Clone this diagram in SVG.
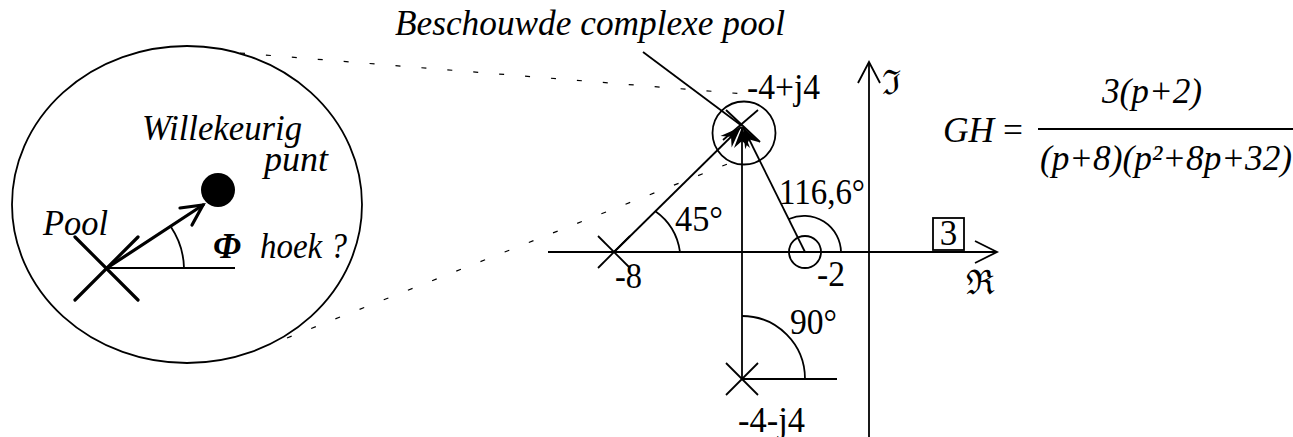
<svg xmlns="http://www.w3.org/2000/svg" width="1293" height="437" viewBox="0 0 1293 437">
<style>
.ln{stroke:#000;stroke-width:1.8;fill:none}
.thk{stroke:#000;stroke-width:3.2;fill:none;stroke-linecap:round}
.dash{stroke:#000;stroke-width:1.2;fill:none;stroke-dasharray:5 21}
.t{font-family:"Liberation Serif","Times New Roman",serif;font-size:35px;fill:#000}
.ti{font-family:"Liberation Serif","Times New Roman",serif;font-size:35px;font-style:italic;fill:#000}
.sym{font-family:"DejaVu Serif","Noto Sans",serif;font-size:34px;fill:#000}
</style>
<defs>
<marker id="barb" viewBox="-22 -9 24 18" refX="0" refY="0" markerWidth="24" markerHeight="18" markerUnits="userSpaceOnUse" orient="auto">
<path d="M0,0 L-21,-8 L-14,0 L-21,8 Z" fill="#000"/>
</marker>
</defs>
<rect width="1293" height="437" fill="#fff"/>

<g id="zoom-ellipse">
<ellipse cx="187" cy="204.5" rx="175" ry="158.5" class="ln"/>
<line x1="75" y1="237" x2="138" y2="300" class="thk"/>
<line x1="138" y1="237" x2="75" y2="300" class="thk"/>
<line x1="107" y1="268" x2="235" y2="268" class="ln"/>
<line x1="107" y1="268" x2="203" y2="205" class="thk"/>
<polyline points="180,208 203,205 192,225" class="thk"/>
<circle cx="218" cy="190" r="17" fill="#000"/>
<path d="M171,227 A77,77 0 0 1 184,268" class="ln"/>
<text class="ti" x="142" y="140" textLength="160" lengthAdjust="spacingAndGlyphs">Willekeurig</text>
<text class="ti" x="264" y="171" textLength="64" lengthAdjust="spacingAndGlyphs">punt</text>
<text class="ti" x="43" y="235" textLength="65" lengthAdjust="spacingAndGlyphs">Pool</text>
<text class="ti" x="213" y="258" font-weight="bold" font-size="36" textLength="28" lengthAdjust="spacingAndGlyphs">Φ</text>
<text class="ti" x="260" y="258" textLength="87" lengthAdjust="spacingAndGlyphs">hoek ?</text>
</g>

<g id="projection">
<line x1="240" y1="53" x2="745" y2="94" class="dash"/>
<line x1="287" y1="338" x2="730" y2="163" class="dash"/>
</g>

<g id="axes">
<line x1="548" y1="252" x2="997" y2="252" class="ln"/>
<polyline points="975,241 997,252 975,263" class="ln"/>
<line x1="869" y1="62" x2="869" y2="437" class="ln"/>
<polyline points="858,83 869,62 880,83" class="ln"/>
<text class="sym" x="882" y="94">ℑ</text>
<text class="sym" x="966" y="294">ℜ</text>
</g>

<g id="pole-upper">
<circle cx="744" cy="133" r="31.5" class="ln"/>
<line x1="726" y1="110" x2="760" y2="142" class="ln"/>
<line x1="758" y1="110" x2="723" y2="140" class="ln"/>
<text class="t" x="747" y="99" textLength="73" lengthAdjust="spacingAndGlyphs">-4+j4</text>
</g>

<g id="pole-minus8">
<line x1="598" y1="236" x2="630" y2="268" class="ln"/>
<line x1="598" y1="268" x2="630" y2="236" class="ln"/>
<text class="t" x="615" y="288" textLength="27" lengthAdjust="spacingAndGlyphs">-8</text>
</g>

<g id="zero-minus2">
<circle cx="805" cy="252" r="16" class="ln"/>
<text class="t" x="817" y="286" textLength="28" lengthAdjust="spacingAndGlyphs">-2</text>
</g>

<g id="pole-lower">
<line x1="726" y1="363" x2="758" y2="395" class="ln"/>
<line x1="758" y1="363" x2="726" y2="395" class="ln"/>
<line x1="742" y1="379" x2="837" y2="379" class="ln"/>
<text class="t" x="738" y="432" textLength="67" lengthAdjust="spacingAndGlyphs">-4-j4</text>
</g>

<g id="connectors">
<line x1="614" y1="252" x2="741" y2="127" class="ln" marker-end="url(#barb)"/>
<line x1="742" y1="379" x2="742" y2="127" class="ln" marker-end="url(#barb)"/>
<line x1="805" y1="252" x2="743" y2="127" class="ln" marker-end="url(#barb)"/>
<line x1="643" y1="52" x2="742" y2="126" class="ln"/>
</g>

<g id="angles">
<path d="M655,211 A60,60 0 0 1 680,252" class="ln"/>
<text class="t" x="675" y="231" textLength="48" lengthAdjust="spacingAndGlyphs">45°</text>
<path d="M789,219 A37,37 0 0 1 841,252" class="ln"/>
<text class="t" x="779" y="204" textLength="86" lengthAdjust="spacingAndGlyphs">116,6°</text>
<path d="M742,316 A63,63 0 0 1 805,379" class="ln"/>
<text class="t" x="790" y="334" textLength="47" lengthAdjust="spacingAndGlyphs">90°</text>
</g>

<g id="gain-box">
<rect x="933" y="218" width="31" height="32" class="ln"/>
<text class="t" x="948.5" y="245" text-anchor="middle">3</text>
</g>

<g id="title">
<text class="ti" x="395" y="35" textLength="390" lengthAdjust="spacingAndGlyphs">Beschouwde complexe pool</text>
</g>

<g id="equation">
<text class="ti" x="943" y="142" textLength="80" lengthAdjust="spacingAndGlyphs">GH <tspan font-style="normal">=</tspan></text>
<text class="ti" x="1102" y="103" textLength="100" lengthAdjust="spacingAndGlyphs">3(p+2)</text>
<line x1="1038" y1="129" x2="1293" y2="129" class="ln"/>
<text class="ti" x="1040" y="170" textLength="252" lengthAdjust="spacingAndGlyphs">(p+8)(p²+8p+32)</text>
</g>
</svg>
